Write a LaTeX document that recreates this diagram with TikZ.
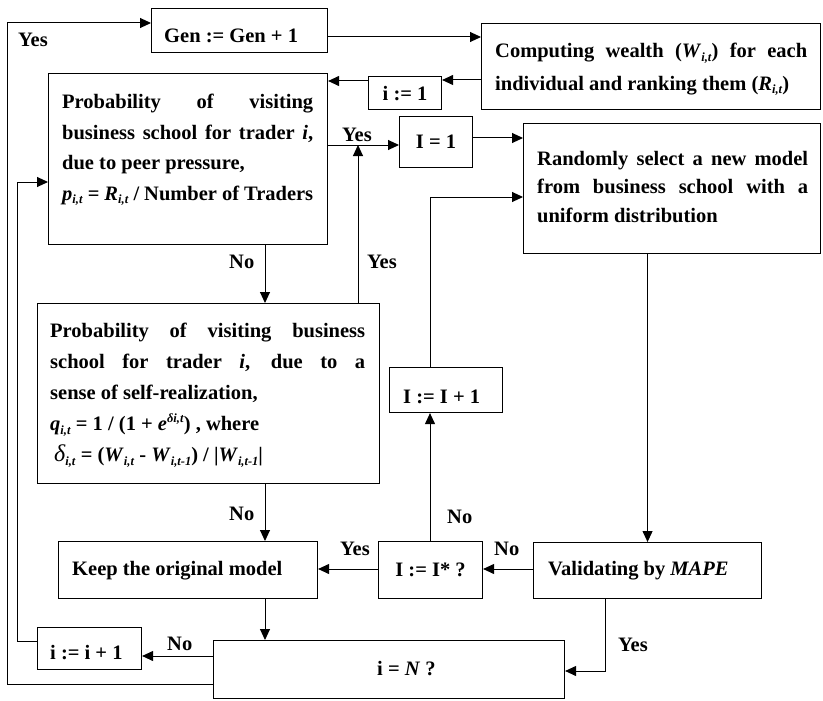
\documentclass[tikz,border=0pt]{standalone}
\usepackage{fontspec}
\setmainfont{Liberation Serif}
\usetikzlibrary{arrows.meta}
% small raised / lowered indices for the formulas
\newcommand\mysub[1]{\raisebox{-3.5pt}{\fontsize{12.5}{12.5}\selectfont\textit{#1}}}
\newcommand\mysup[1]{\raisebox{8pt}{\fontsize{12.5}{12.5}\selectfont\textit{#1}}}
\setlength{\parindent}{0pt}
\tolerance=10000 \hbadness=10000 \hyphenpenalty=10000
\begin{document}
\begin{tikzpicture}[x=1pt,y=-1pt,
  box/.style={draw, line width=1.1pt, inner sep=0pt, anchor=north west,
              font=\fontsize{20.5}{24}\selectfont\bfseries},
  lbl/.style={inner sep=0pt, anchor=base west, font=\fontsize{20.5}{24}\selectfont\bfseries},
  para/.style={inner sep=0pt, anchor=north west, align=justify,
               font=\fontsize{20.5}{#1}\selectfont\bfseries},
  arr/.style={line width=1pt, -{Triangle[length=11pt,width=10pt]}}]

\fill[white] (0,0) rectangle (823,701);
\useasboundingbox (0,0) rectangle (823,701);

% ---- boxes ----
\node[box, minimum width=176pt, minimum height=44pt] (gen)   at (151,8)   {};
\node[box, minimum width=339pt, minimum height=86pt] (comp)  at (481,23)  {};
\node[box, minimum width=73pt,  minimum height=33pt] (ione)  at (368,76)  {i := 1};
\node[box, minimum width=279pt, minimum height=171pt] (p1)   at (48,73)   {};
\node[box, minimum width=73pt,  minimum height=51pt] (Ieq)   at (399,116) {I = 1};
\node[box, minimum width=297pt, minimum height=130pt] (rand) at (523,123) {};
\node[box, minimum width=342pt, minimum height=180pt] (p2)   at (37,303)  {};
\node[box, minimum width=113pt, minimum height=45pt] (Iinc)  at (389,367) {};
\node[box, minimum width=259pt, minimum height=57pt] (keep)  at (58,541)  {};
\node[box, minimum width=104pt, minimum height=57pt] (Istar) at (378,541) {I := I* ?};
\node[box, minimum width=228pt, minimum height=56pt] (valid) at (533,542) {};
\node[box, minimum width=104pt, minimum height=42pt] (iinc)  at (37,627)  {};
\node[box, minimum width=351pt, minimum height=58pt] (iN)    at (213,640) {};

% ---- box texts ----
\node[lbl] (gent) at (164,43) {Gen := Gen + 1};
\node[para=32.5, text width=312pt] (compt) at (495,43)
  {Computing wealth (\textit{W}\mysub{i,t}) for each\linebreak
   individual and ranking them (\textit{R}\mysub{i,t})};
\node[para=30.6, text width=251pt] (p1t) at (62,94)
  {Probability of visiting\linebreak
   business school for trader \textit{i},\linebreak
   due to peer pressure,\\
   \textit{p}\mysub{i,t} = \textit{R}\mysub{i,t} / Number of Traders};
\node[para=28.3, text width=271pt] (randt) at (537,151)
  {Randomly select a new model\linebreak
   from business school with a\linebreak
   uniform distribution};
\node[para=31, text width=315pt] (p2t) at (50,323)
  {Probability of visiting business\linebreak
   school for trader \textit{i}, due to a\linebreak
   sense of self-realization,\\
   \textit{q}\mysub{i,t} = 1 / (1 + \textit{e}\mysup{δi,t}) , where\\
   \hspace*{4pt}{\fontsize{24}{24}\selectfont\mdseries\itshape δ}\mysub{i,t} = (\textit{W}\mysub{i,t} - \textit{W}\mysub{i,t-1}) / |\textit{W}\mysub{i,t-1}|};
\node[lbl] (Iinct)  at (403,403) {I := I + 1};
\node[lbl] (keept)  at (72,575)  {Keep the original model};
\node[lbl] (validt) at (548,575) {Validating by \textit{MAPE}};
\node[lbl] (iinct)  at (50,659)  {i := i + 1};
\node[lbl] (iNt)    at (377,675) {i = \textit{N} ?};

% ---- branch labels ----
\node[lbl] (y1) at (18,47)   {Yes};
\node[lbl] (y2) at (342,142) {Yes};
\node[lbl] (n1) at (229,268) {No};
\node[lbl] (y3) at (367,268) {Yes};
\node[lbl] (n2) at (229,520) {No};
\node[lbl] (n3) at (447,523) {No};
\node[lbl] (y4) at (340,555) {Yes};
\node[lbl] (n4) at (494,555) {No};
\node[lbl] (n5) at (167,650) {No};
\node[lbl] (y5) at (618,651) {Yes};

% ---- connectors ----
\coordinate (yj) at (358,145);
\draw[arr] (iN.west |- 0,684) -- (7,684) -- (7,23) -- (gen.west |- 0,23);
\draw[arr] (gen.east |- 0,37) -- (comp.west |- 0,37);
\draw[arr] (comp.west |- 0,80) -- (ione.east |- 0,80);
\draw[arr] (ione.west |- 0,81) -- (p1.east |- 0,81);
\draw[arr] (p1.east |- 0,145) -- (Ieq.west |- 0,145);
\draw[arr] (Ieq.east |- 0,138) -- (rand.west |- 0,138);
\draw[arr] (p1.south -| 265,0) -- (p2.north -| 265,0);
\draw[arr] (p2.north -| yj) -- (yj);
\draw[arr] (Iinc.north -| 430,0) -- (430,197) -- (rand.west |- 0,197);
\draw[arr] (rand.south -| valid.north) -- (valid.north);
\draw[arr] (p2.south -| 265,0) -- (keep.north -| 265,0);
\draw[arr] (keep.south -| 265,0) -- (iN.north -| 265,0);
\draw[arr] (valid.west |- 0,569) -- (Istar.east |- 0,569);
\draw[arr] (Istar.west |- 0,569) -- (keep.east |- 0,569);
\draw[arr] (Istar.north -| 430,0) -- (Iinc.south -| 430,0);
\draw[arr] (valid.south -| 605,0) -- (605,671) -- (iN.east |- 0,671);
\draw[arr] (iN.west |- 0,656) -- (iinc.east |- 0,656);
\draw[arr] (iinc.west |- 0,641) -- (17,641) -- (17,182) -- (p1.west |- 0,182);
\end{tikzpicture}
\end{document}
